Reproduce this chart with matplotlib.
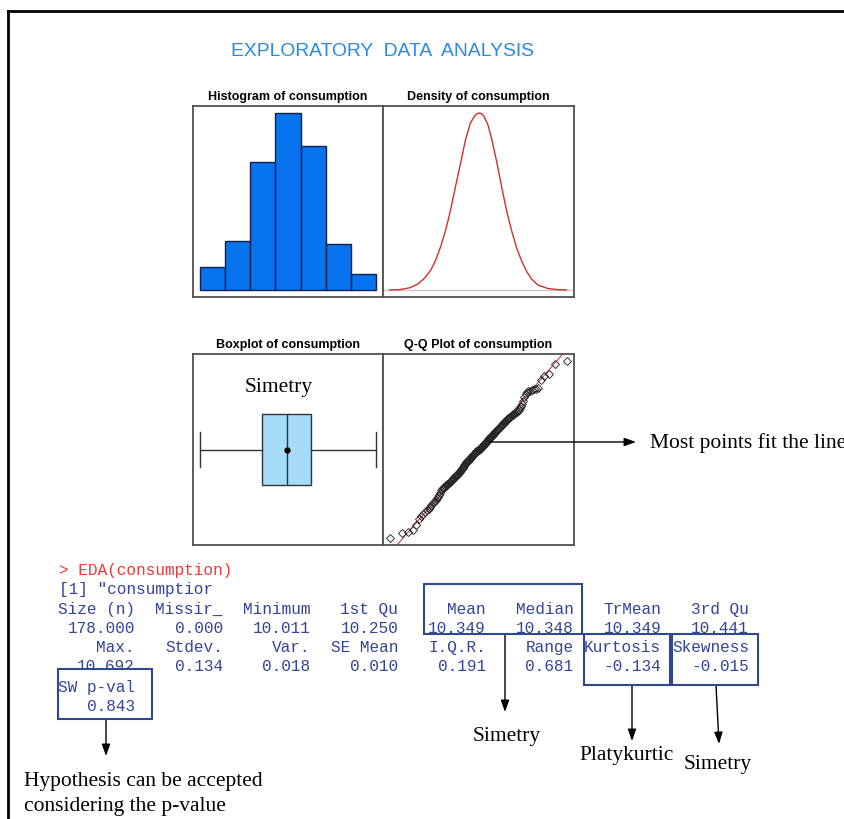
import matplotlib
matplotlib.use("Agg")
import matplotlib.pyplot as plt
from matplotlib import font_manager
from matplotlib.patches import Rectangle
from statistics import NormalDist

W, H = 845, 820

consumption = [
    10.011, 10.029, 10.033, 10.040, 10.062, 10.084, 10.095,
    10.104, 10.110, 10.117, 10.124, 10.131, 10.138, 10.145, 10.150, 10.154, 10.158,
    10.163, 10.170, 10.178, 10.186, 10.194,
    10.201, 10.203, 10.205, 10.208, 10.210, 10.213, 10.215, 10.218, 10.220, 10.223,
    10.225, 10.228, 10.230, 10.233, 10.236, 10.238, 10.241, 10.243, 10.246, 10.248,
    10.250, 10.252, 10.254, 10.256, 10.258, 10.261, 10.263, 10.266, 10.268, 10.271,
    10.273, 10.276, 10.279, 10.282, 10.285, 10.288, 10.291, 10.294, 10.297,
    10.300, 10.302, 10.304, 10.306, 10.308, 10.310, 10.312, 10.313, 10.315, 10.317,
    10.319, 10.321, 10.323, 10.325, 10.327, 10.329, 10.331, 10.333, 10.335, 10.337,
    10.339, 10.341, 10.343, 10.345, 10.346, 10.347, 10.348, 10.348, 10.349, 10.350,
    10.352, 10.354, 10.356, 10.358, 10.360, 10.362, 10.364, 10.366, 10.368, 10.370,
    10.372, 10.374, 10.376, 10.378, 10.380, 10.382, 10.384, 10.386, 10.388, 10.390,
    10.392, 10.394, 10.396, 10.398,
    10.401, 10.403, 10.405, 10.407, 10.409, 10.411, 10.413, 10.415, 10.417, 10.419,
    10.421, 10.423, 10.425, 10.427, 10.429, 10.431, 10.433, 10.435, 10.438, 10.441,
    10.443, 10.446, 10.448, 10.451, 10.453, 10.456, 10.458, 10.461, 10.463, 10.466,
    10.468, 10.471, 10.473, 10.476, 10.478, 10.481, 10.483, 10.486, 10.488, 10.490,
    10.492, 10.494, 10.496, 10.498,
    10.503, 10.510, 10.518, 10.527, 10.540, 10.555, 10.566, 10.572, 10.575, 10.578,
    10.580, 10.583, 10.586, 10.590,
    10.618, 10.634, 10.641, 10.679, 10.692,
]
hist_edges = [10.0, 10.1, 10.2, 10.3, 10.4, 10.5, 10.6, 10.7]

# density curve
dens_x = [9.880, 9.932, 9.985, 10.029, 10.064, 10.099, 10.125, 10.151, 10.178,
          10.204, 10.230, 10.257, 10.283, 10.309, 10.332, 10.344, 10.357, 10.368,
          10.379, 10.402, 10.423, 10.450, 10.476, 10.502, 10.529, 10.555, 10.581,
          10.608, 10.634, 10.669, 10.722, 10.774, 10.818]
dens_y = [0.000, 0.005, 0.032, 0.091, 0.182, 0.316, 0.476, 0.690, 0.958,
          1.279, 1.653, 2.028, 2.402, 2.670, 2.787, 2.819, 2.830, 2.819,
          2.787, 2.643, 2.402, 2.028, 1.626, 1.252, 0.931, 0.663, 0.460,
          0.289, 0.171, 0.075, 0.021, 0.005, 0.000]

# summary numbers printed by EDA()
v_min, v_q1, v_med, v_q3, v_max, v_mean = 10.011, 10.250, 10.348, 10.441, 10.692, 10.349

head1 = ["Size (n)", "Missir_", "Minimum", "1st Qu", "Mean", "Median", "TrMean", "3rd Qu"]
vals1 = ["178.000", "0.000", "10.011", "10.250", "10.349", "10.348", "10.349", "10.441"]
head2 = ["Max.", "Stdev.", "Var.", "SE Mean", "I.Q.R.", "Range", "Kurtosis", "Skewness"]
vals2 = ["10.692", "0.134", "0.018", "0.010", "0.191", "0.681", "-0.134", "-0.015"]

installed = {f.name for f in font_manager.fontManager.ttflist}
if "Liberation Sans Narrow" in installed:
    title_font, title_size = "Liberation Sans Narrow", 16.3
else:
    title_font, title_size = "Liberation Sans", 13.85

fig = plt.figure(figsize=(W / 100, H / 100), dpi=100)
fig.patch.set_facecolor("white")


def px_axes(l, t, r, b):
    ax = fig.add_axes([l / W, 1 - b / H, (r - l) / W, (b - t) / H])
    ax.set_xticks([])
    ax.set_yticks([])
    for s in ax.spines.values():
        s.set_color("#505050")
        s.set_linewidth(1.3)
    return ax


panel_font = dict(family="Liberation Sans", fontweight="bold", fontsize=9)

# histogram
ax1 = px_axes(193, 107, 383, 298)
ax1.hist(consumption, bins=hist_edges, color="#0873ee", edgecolor="#10204a", linewidth=1)
ax1.set_xlim(9.972, 10.728)
ax1.set_ylim(-2.16, 56.16)
ax1.set_title("Histogram of consumption", pad=5, **panel_font)

# density
ax2 = px_axes(383, 107, 574, 298)
ax2.axhline(0, color="#c8c8c8", lw=1)
ax2.plot(dens_x, dens_y, color="#cc3030", lw=1)
ax2.set_xlim(9.846, 10.858)
ax2.set_ylim(-0.113, 2.943)
ax2.set_title("Density of consumption", pad=5, **panel_font)

# boxplot
ax3 = px_axes(193, 355, 383, 546)
stats = [dict(whislo=v_min, q1=v_q1, med=v_med, q3=v_q3, whishi=v_max, mean=v_mean, fliers=[])]
ax3.bxp(stats, orientation="horizontal", widths=0.372, capwidths=0.183, patch_artist=True,
        showmeans=True, showfliers=False,
        boxprops=dict(facecolor="#a5dcf7", edgecolor="#333333", lw=1),
        medianprops=dict(color="#333333", lw=1),
        whiskerprops=dict(color="#333333", lw=1),
        capprops=dict(color="#333333", lw=1),
        meanprops=dict(marker="o", markersize=3.5, markerfacecolor="black", markeredgecolor="black"))
ax3.set_xlim(9.984, 10.719)
ax3.set_ylim(0.5, 1.5)
ax3.set_xticks([])
ax3.set_yticks([])
ax3.text(10.316, 1.33, "Simetry", ha="center", va="center", family="Liberation Serif", fontsize=15.5)
ax3.set_title("Boxplot of consumption", pad=5, **panel_font)

# Q-Q plot
ax4 = px_axes(383, 355, 574, 546)
n = len(consumption)
nd = NormalDist()
theo = [nd.inv_cdf((i + 0.5) / n) for i in range(n)]
ax4.axline((nd.inv_cdf(0.25), v_q1), (nd.inv_cdf(0.75), v_q3), color="#d04545", lw=0.8)
ax4.plot(theo, consumption, ls="none", marker="D", markersize=3.7, markerfacecolor="none",
         markeredgecolor="#262626", markeredgewidth=0.65)
ax4.set_xlim(-2.99, 2.99)
ax4.set_ylim(9.984, 10.719)
ax4.set_title("Q-Q Plot of consumption", pad=5, **panel_font)

# overlay in pixel coordinates
ov = fig.add_axes([0, 0, 1, 1])
ov.set_xlim(0, W)
ov.set_ylim(H, 0)
ov.axis("off")

ov.plot([8, W], [12, 12], color="black", lw=2)
ov.plot([8, 8], [12, H], color="black", lw=2)

ov.text(383, 51, "EXPLORATORY  DATA  ANALYSIS", ha="center", va="center",
        family=title_font, fontsize=title_size, color="#2a88e6")

mono = dict(family="Liberation Mono", fontsize=11.6, va="center_baseline")
navy = "#34449a"
ov.text(59, 569, "> EDA(consumption)", ha="left", color="#f03a3a", **mono)
ov.text(59, 588, '[1] "consumptior', ha="left", color=navy, **mono)
col_right = [135 + 87.7 * i for i in range(8)]
for row_y, cells in zip([608, 627, 646, 665], [head1, vals1, head2, vals2]):
    for xr, cell in zip(col_right, cells):
        ov.text(xr, row_y, cell, ha="right", color=navy, **mono)
ov.text(col_right[0], 686, "SW p-val", ha="right", color=navy, zorder=6, **mono)
ov.text(col_right[0], 705, "0.843", ha="right", color=navy, zorder=6, **mono)

box_col = "#2e4a8c"
for l, t, r, b in [(58, 670, 152, 720), (424, 585, 582, 635), (584, 635, 670, 686), (672, 635, 758, 686)]:
    ov.add_patch(Rectangle((l, t), r - l, b - t, facecolor="white" if l == 58 else "none",
                           edgecolor=box_col, lw=1.5, zorder=5))

arrow = dict(arrowstyle="-|>,head_length=0.7,head_width=0.25", color="black", lw=1,
             shrinkA=0, shrinkB=0)
for start, tip in [((505, 635), (505, 713)), ((632, 686), (632, 742)), ((716, 686), (719, 745)),
                   ((106, 720), (106, 757)), ((490, 443), (636, 443))]:
    ov.annotate("", xy=tip, xytext=start, arrowprops=arrow)

serif = dict(family="Liberation Serif", fontsize=15.5, color="black", va="center")
ov.text(650, 443, "Most points fit the line", ha="left", **serif)
ov.text(507, 737, "Simetry", ha="center", **serif)
ov.text(627, 756, "Platykurtic", ha="center", **serif)
ov.text(718, 765, "Simetry", ha="center", **serif)
ov.text(24, 782, "Hypothesis can be accepted", ha="left", **serif)
ov.text(24, 807, "considering the p-value", ha="left", **serif)

fig.savefig("out.png", dpi=100)
